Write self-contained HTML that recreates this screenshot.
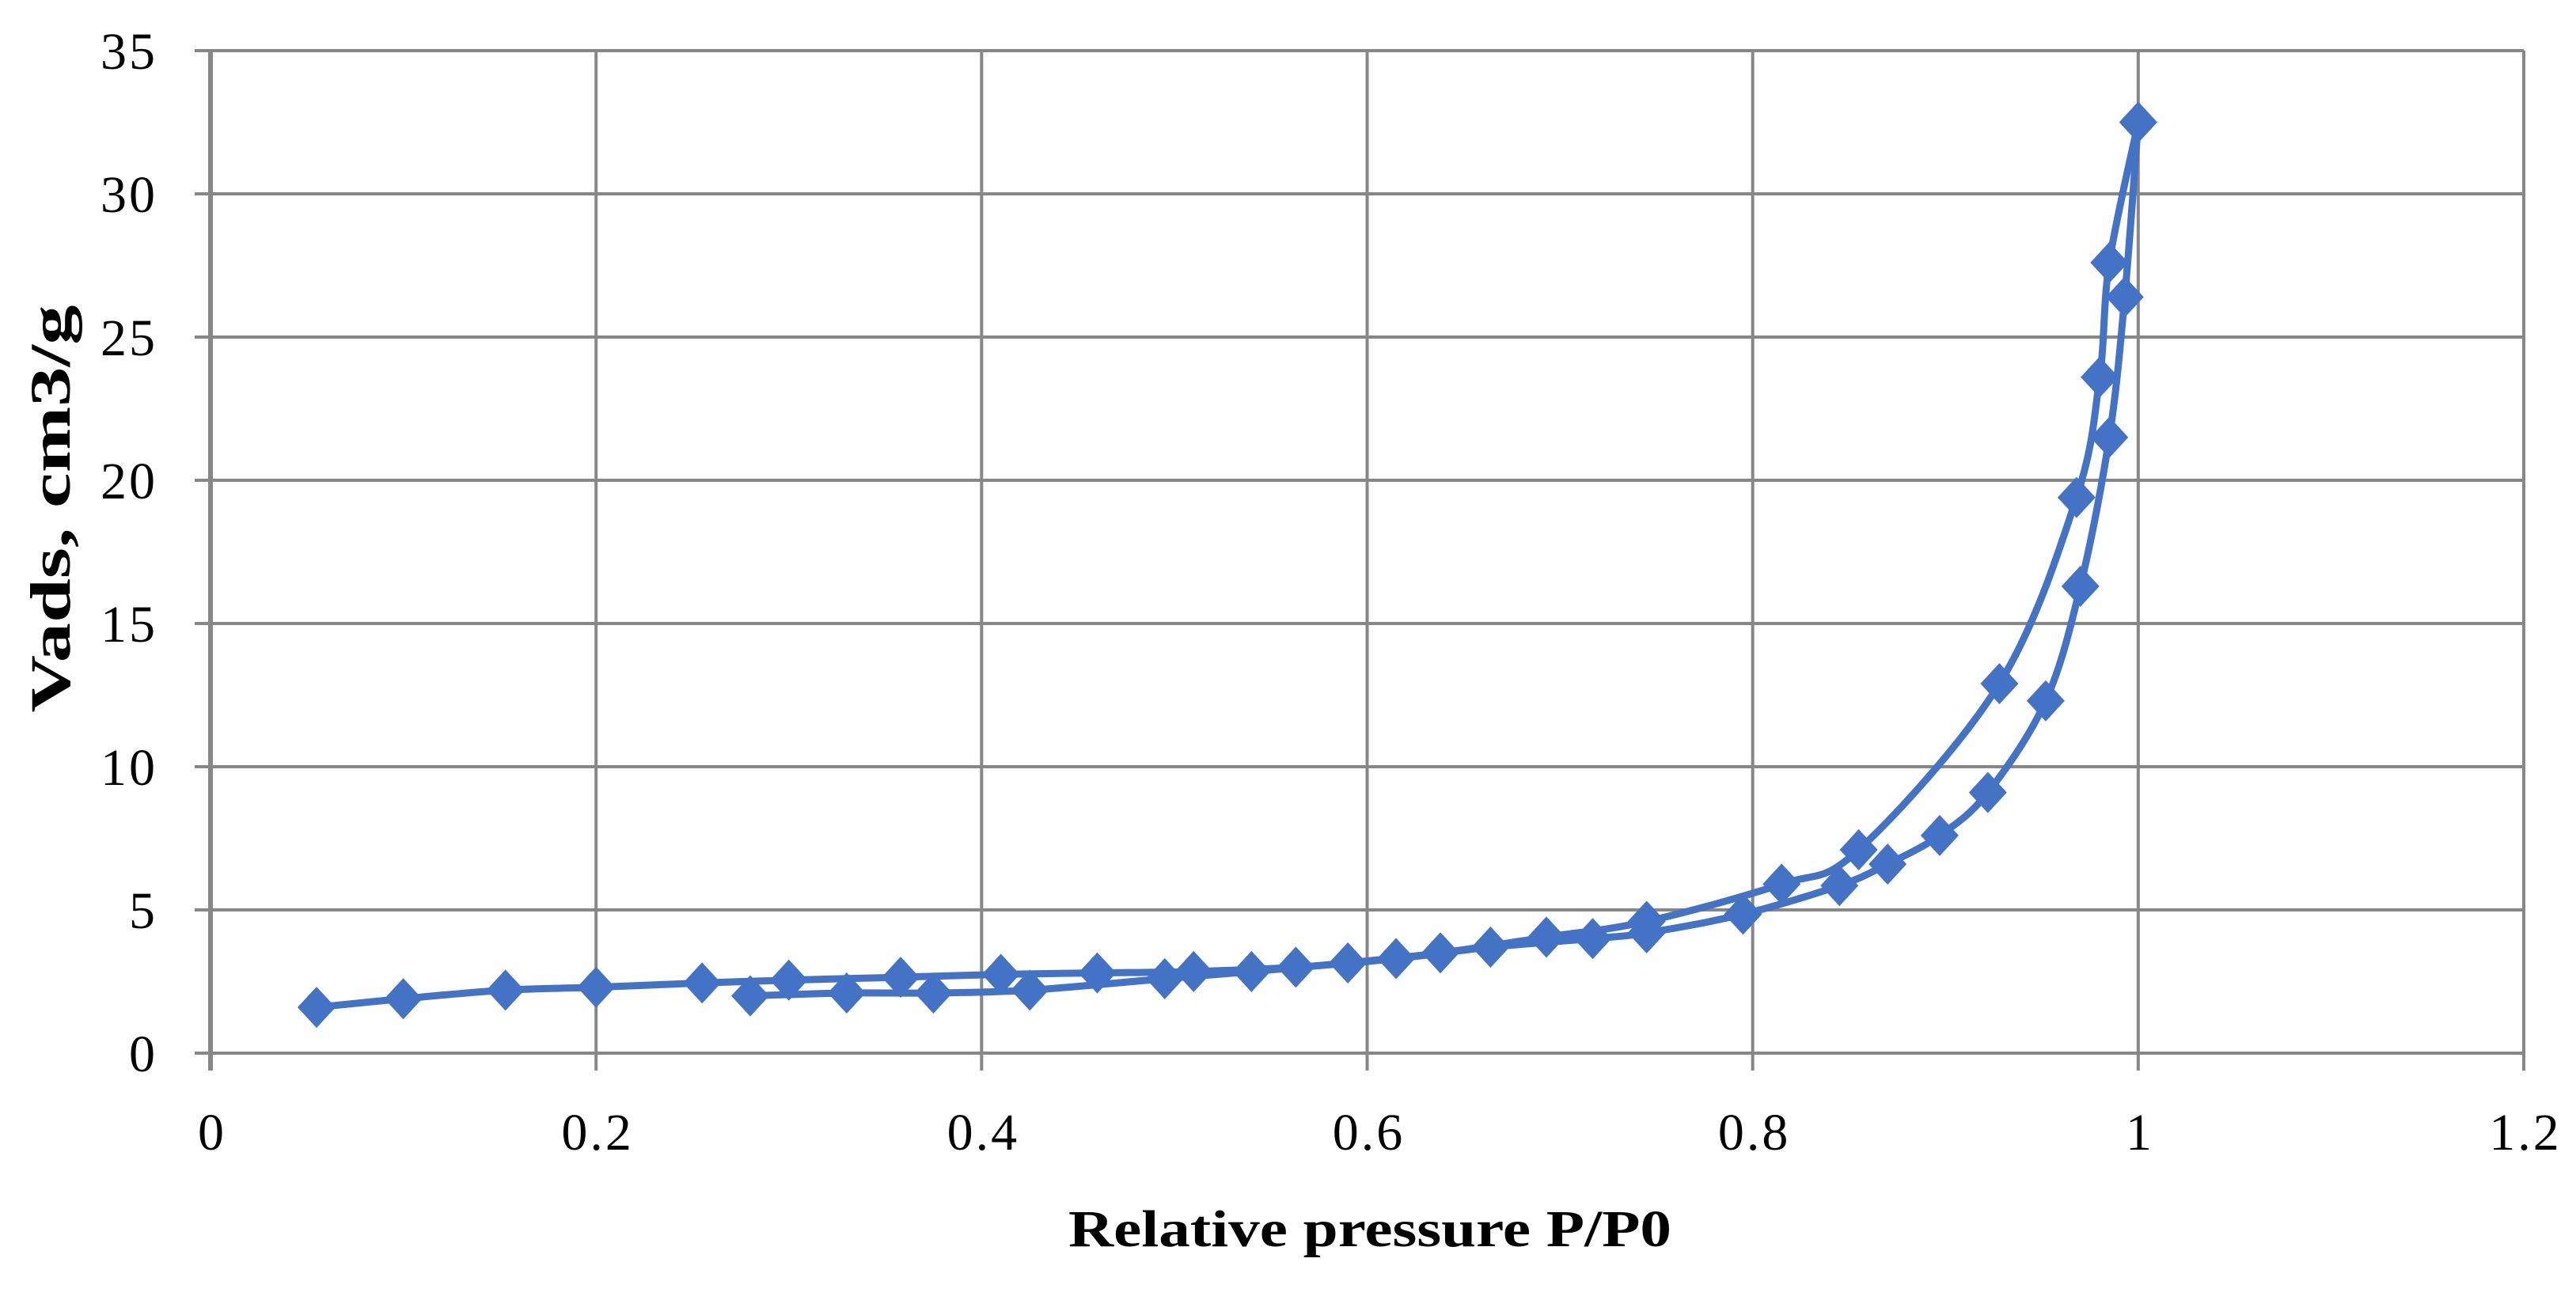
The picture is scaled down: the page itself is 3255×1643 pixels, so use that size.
<!DOCTYPE html>
<html><head><meta charset="utf-8"><style>
html,body{margin:0;padding:0;background:#fff;}
svg{display:block;}
text{font-family:"Liberation Serif",serif;fill:#000;}
</style></head><body>
<svg id="chart" width="3255" height="1643" viewBox="0 0 3255 1643">
<g id="grid"></g>
<g id="series"></g>
<g id="ticks"></g>
<text x="0" y="0" transform="translate(88,643) rotate(-90)" text-anchor="middle" font-size="72" font-weight="bold" textLength="515" lengthAdjust="spacingAndGlyphs">Vads, cm3/g</text>
<text x="1731" y="1575" text-anchor="middle" font-size="66" font-weight="bold" textLength="762" lengthAdjust="spacingAndGlyphs">Relative pressure P/P0</text>
</svg>
<script>
const xTicks = [0, 0.2, 0.4, 0.6, 0.8, 1, 1.2];
const xTickLabels = ["0", "0.2", "0.4", "0.6", "0.8", "1", "1.2"];
const yTicks = [0, 5, 10, 15, 20, 25, 30, 35];
const yTickLabels = ["0", "5", "10", "15", "20", "25", "30", "35"];
const adsX = [0.055,0.1,0.153,0.2,0.255,0.3,0.358,0.41,0.46,0.51,0.563,0.615,0.664,0.717,0.745,0.795,0.845,0.87,0.897,0.922,0.952,0.97,0.985,0.993,1.0];
const adsY = [1.6,1.9,2.2,2.3,2.45,2.55,2.65,2.75,2.8,2.85,3.0,3.3,3.7,4.0,4.2,4.85,5.85,6.6,7.6,9.1,12.3,16.3,21.5,26.4,32.5];
const desX = [1.0,0.985,0.98,0.968,0.928,0.855,0.815,0.745,0.693,0.638,0.59,0.54,0.495,0.425,0.375,0.33,0.28];
const desY = [32.5,27.6,23.6,19.4,12.9,7.1,5.9,4.6,4.05,3.5,3.15,2.85,2.6,2.2,2.1,2.1,2.0];

const X0 = 266, X1 = 3189, Y0 = 1331, Y1 = 64;
function sx(v){ return X0 + (v - 0) / 1.2 * (X1 - X0); }
function sy(v){ return Y0 - v / 35 * (Y0 - Y1); }
const NS = "http://www.w3.org/2000/svg";
function mk(tag, parent, attrs){ const e = document.createElementNS(NS, tag); for (const k in attrs) e.setAttribute(k, attrs[k]); parent.appendChild(e); return e; }

const grid = document.getElementById('grid');
const ticks = document.getElementById('ticks');
yTicks.forEach((t, i) => {
  const l = mk('line', grid, {x1: X0 - 20, x2: X1, y1: sy(t), y2: sy(t), stroke: '#878787', 'stroke-width': 4});
  
  
  const tx = mk('text', ticks, {x: 199, y: sy(t) + 23, 'text-anchor': 'end', 'font-size': 66, 'letter-spacing': 3});
  tx.textContent = yTickLabels[i];
  
  
});
xTicks.forEach((t, i) => {
  const l = mk('line', grid, {x1: sx(t), x2: sx(t), y1: Y1, y2: Y0 + 22, stroke: '#878787', 'stroke-width': t === 0 ? 6 : 4});
  
  
  const tx = mk('text', ticks, {x: sx(t) + 2, y: 1453, 'text-anchor': 'middle', 'font-size': 66, 'letter-spacing': 3});
  tx.textContent = xTickLabels[i];
  
  
});

function smoothPath(xs, ys){
  const p = xs.map((x, i) => [sx(x), sy(ys[i])]);
  let d = 'M' + p[0][0] + ',' + p[0][1];
  const k = 0.5 / 3;
  for (let i = 0; i < p.length - 1; i++){
    const p0 = p[i - 1] || p[i], p1 = p[i], p2 = p[i + 1], p3 = p[i + 2] || p[i + 1];
    const c1x = p1[0] + (p2[0] - p0[0]) * k, c1y = p1[1] + (p2[1] - p0[1]) * k;
    const c2x = p2[0] - (p3[0] - p1[0]) * k, c2y = p2[1] - (p3[1] - p1[1]) * k;
    d += ' C' + c1x + ',' + c1y + ' ' + c2x + ',' + c2y + ' ' + p2[0] + ',' + p2[1];
  }
  return d;
}
const series = document.getElementById('series');
const C = '#4472C4';
const la = mk('path', series, {d: smoothPath(adsX, adsY), fill: 'none', stroke: C, 'stroke-width': 9, 'stroke-linejoin': 'round'});


const ld = mk('path', series, {d: smoothPath(desX, desY), fill: 'none', stroke: C, 'stroke-width': 9, 'stroke-linejoin': 'round'});


function markers(xs, ys, name){
  xs.forEach((x, i) => {
    const cx = sx(x), cy = sy(ys[i]);
    const m = mk('polygon', series, {points: `${cx},${cy-26} ${cx+24},${cy} ${cx},${cy+26} ${cx-24},${cy}`, fill: C});
    
    
  });
}
markers(adsX, adsY, 'adsorption-point');
markers(desX, desY, 'desorption-point');
</script>
</body></html>
